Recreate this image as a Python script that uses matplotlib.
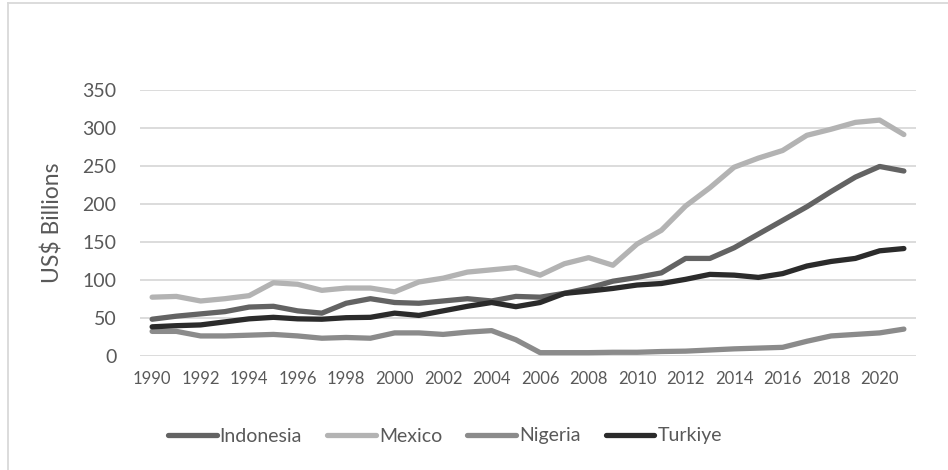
import matplotlib
matplotlib.use("Agg")
import matplotlib.pyplot as plt
from matplotlib.lines import Line2D

plt.rcParams['font.family'] = ['Lato', 'DejaVu Sans']

years = list(range(1990, 2022))

indonesia = [48, 52, 55, 58, 64, 65, 59, 56, 69, 75, 70, 69, 72, 75, 72, 78,
             77, 82, 89, 98, 103, 109, 128, 128, 142, 160, 178, 196, 216, 235, 249, 243]
mexico = [77, 78, 72, 75, 79, 96, 94, 86, 89, 89, 84, 97, 102, 110, 113, 116,
          106, 121, 129, 119, 147, 165, 197, 221, 248, 260, 270, 290, 298, 307, 310, 291]
nigeria = [32, 32, 26, 26, 27, 28, 26, 23, 24, 23, 30, 30, 28, 31, 33, 21,
           4, 4, 4, 4.5, 4.5, 5.5, 6, 7.5, 9, 10, 11, 19, 26, 28, 30, 35]
turkiye = [38, 39.5, 40.5, 44.5, 48.5, 50.5, 48.5, 48, 50, 50.5, 56, 53, 59, 65, 70, 64.5,
           70, 82, 85, 88.5, 93, 95, 100.5, 107, 106, 103, 108, 118, 124, 128, 138, 141]

series_names = ["Indonesia", "Mexico", "Nigeria", "Turkiye"]
series_values = [indonesia, mexico, nigeria, turkiye]
series_colors = ["#636363", "#b3b3b3", "#8b8b8b", "#2b2b2b"]

y_ticks = [0, 50, 100, 150, 200, 250, 300, 350]
x_tick_labels = [str(y) for y in years[::2]]

text_color = "#595959"
grid_color = "#d9d9d9"

fig = plt.figure(figsize=(9.48, 4.70), dpi=100)
ax = fig.add_axes([140 / 948, 1 - 355.7 / 470, (916 - 140) / 948, (355.7 - 89.7) / 470])

x = list(range(len(years)))
for name, vals, col in zip(series_names, series_values, series_colors):
    ax.plot(x, vals, color=col, lw=3.8, solid_capstyle='round',
            solid_joinstyle='round', label=name)

ax.set_xlim(-0.5, len(years) - 0.5)
ax.set_ylim(0, 350)
ax.set_yticks(y_ticks)
ax.set_yticklabels([str(v) for v in y_ticks])
ax.set_xticks(x[::2])
ax.set_xticklabels(x_tick_labels)
ax.tick_params(axis='y', length=0, pad=17, labelsize=14, labelcolor=text_color)
ax.tick_params(axis='x', length=0, pad=11, labelsize=12, labelcolor=text_color)

for v in y_ticks:
    ax.axhline(v, color=grid_color, lw=1.3, zorder=0)
for s in ax.spines.values():
    s.set_visible(False)

ax.set_ylabel("US$ Billions", fontsize=16.5, color=text_color)
ax.yaxis.set_label_coords(-0.098, 0.5)

handles = [Line2D([0], [0], color=c, lw=3.8, solid_capstyle='round') for c in series_colors]
fig.legend(handles, series_names, loc='center', bbox_to_anchor=(445 / 948, 1 - 436 / 470),
           ncol=4, frameon=False, fontsize=14, labelcolor=text_color,
           handlelength=2.5, handletextpad=0.15, columnspacing=1.3)

# chart area border (left and top edges)
fig.add_artist(Line2D([7.5 / 948, 7.5 / 948], [0, 1 - 3 / 470], color="#d9d9d9", lw=1.3,
                      transform=fig.transFigure))
fig.add_artist(Line2D([7.5 / 948, 1], [1 - 3 / 470, 1 - 3 / 470], color="#d9d9d9", lw=1.3,
                      transform=fig.transFigure))

fig.savefig("out.png", dpi=100, facecolor="white")
